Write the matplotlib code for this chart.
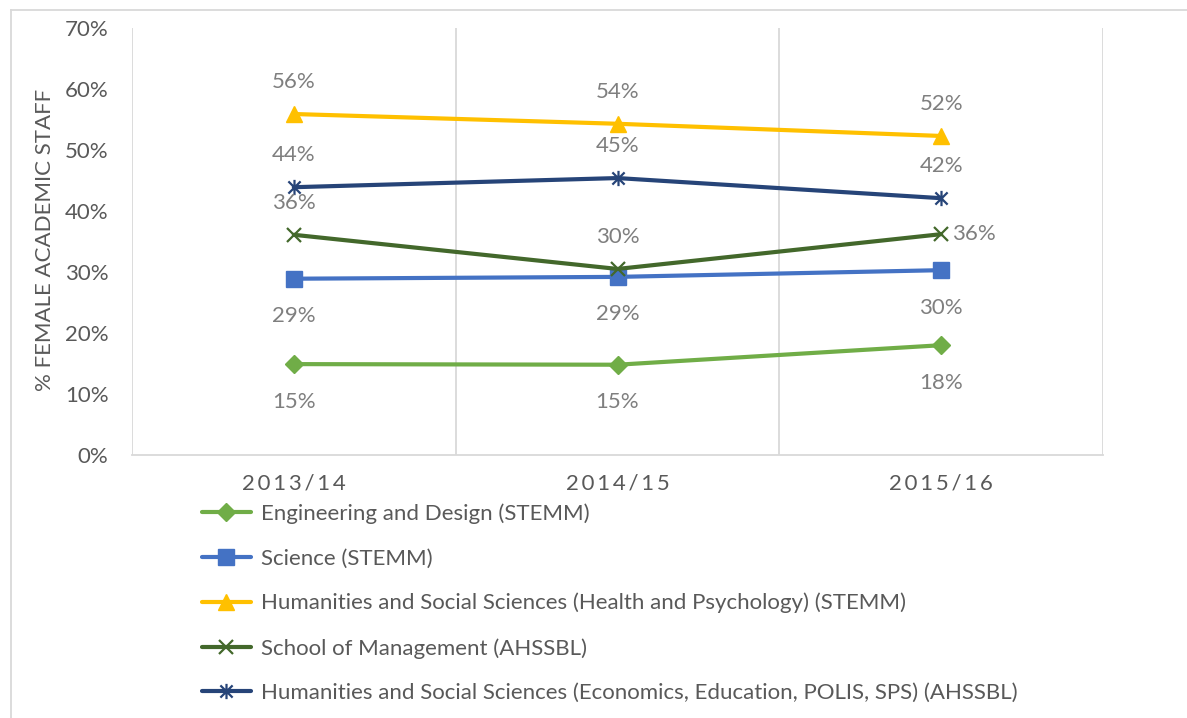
import matplotlib
matplotlib.use("Agg")
import matplotlib.pyplot as plt
from matplotlib.path import Path
from matplotlib.lines import Line2D

plt.rcParams['font.family'] = ['Lato', 'DejaVu Sans']

years = ["2013/14", "2014/15", "2015/16"]
series_names = [
    "Engineering and Design (STEMM)",
    "Science (STEMM)",
    "Humanities and Social Sciences (Health and Psychology) (STEMM)",
    "School of Management (AHSSBL)",
    "Humanities and Social Sciences (Economics, Education, POLIS, SPS) (AHSSBL)",
]
eng = [0.149, 0.148, 0.180]
sci = [0.289, 0.292, 0.303]
hss_health = [0.559, 0.543, 0.523]
mgmt = [0.361, 0.305, 0.362]
hss_econ = [0.439, 0.454, 0.421]
label_pos = [
    ["below", "below", "below"],
    ["below", "below", "below"],
    ["above", "above", "above"],
    ["above", "above", "right"],
    ["above", "above", "above"],
]
yticks = [0, 0.1, 0.2, 0.3, 0.4, 0.5, 0.6, 0.7]

star = Path([(0, -1), (0, 1), (-0.8, -0.8), (0.8, 0.8), (-0.8, 0.8), (0.8, -0.8)],
            [Path.MOVETO, Path.LINETO, Path.MOVETO, Path.LINETO, Path.MOVETO, Path.LINETO])

styles = [
    dict(color="#70AD47", marker="D", ms=9.5, mfc="#70AD47", mec="#70AD47", mew=1),
    dict(color="#4472C4", marker="s", ms=11, mfc="#4472C4", mec="#4472C4", mew=1),
    dict(color="#FFC000", marker="^", ms=12, mfc="#FFC000", mec="#FFC000", mew=1),
    dict(color="#43682B", marker="x", ms=10, mfc="none", mec="#43682B", mew=1.6),
    dict(color="#264478", marker=star, ms=11, mfc="none", mec="#264478", mew=1.6),
]

FS = 16
W, H = 1187, 718
fig = plt.figure(figsize=(W / 100, H / 100), dpi=100)
ax = fig.add_axes([132 / W, 1 - 455 / H, (1103 - 132) / W, (455 - 28) / H])

x = list(range(len(years)))
all_series = [eng, sci, hss_health, mgmt, hss_econ]
handles = []
for vals, name, st, lp in zip(all_series, series_names, styles, label_pos):
    ln, = ax.plot(x, vals, lw=3, label=name, solid_capstyle="round", zorder=3, **st)
    handles.append(ln)
    for xi, v, p in zip(x, vals, lp):
        txt = f"{round(v * 100):.0f}%"
        if p == "above":
            off, ha, va = (0, 23), "center", "center"
        elif p == "below":
            off, ha, va = (0, -27), "center", "center"
        else:
            off, ha, va = (7.5, 0), "left", "center"
        ax.annotate(txt, (xi, v), xytext=off, textcoords="offset points",
                    ha=ha, va=va, fontsize=FS, color="#7F7F7F", zorder=4)

ax.set_xlim(-0.5, 2.5)
ax.set_ylim(0, 0.7)
ax.set_yticks(yticks)
ax.set_yticklabels([f"{int(round(t * 100))}%" for t in yticks])
ax.set_xticks(x)
ax.set_xticklabels(["\u2009".join(list(y)) for y in years])
ax.set_xticks([-0.5, 0.5, 1.5, 2.5], minor=True)
ax.grid(True, which="minor", axis="x", color="#D9D9D9", lw=1.3, zorder=0)
ax.tick_params(axis="both", which="both", length=0)
ax.tick_params(axis="y", pad=17, labelsize=FS, labelcolor="#595959")
ax.tick_params(axis="x", pad=13, labelsize=FS, labelcolor="#595959")
for s in ["top", "left", "right"]:
    ax.spines[s].set_visible(False)
ax.spines["bottom"].set_color("#D9D9D9")
ax.spines["bottom"].set_linewidth(1.3)

fig.text(45 / W, 1 - 240 / H, "% FEMALE ACADEMIC STAFF", rotation=90,
         ha="center", va="center", fontsize=FS, color="#595959")

leg = fig.legend(handles=handles, loc="upper left",
                 bbox_to_anchor=(193 / W, 1 - 494.5 / H), frameon=False,
                 fontsize=FS, labelcolor="#595959", handlelength=2.2,
                 handletextpad=0.45, labelspacing=1.1, borderaxespad=0)

# outer frame (left and top edges visible)
fig.add_artist(Line2D([10.5 / W, 10.5 / W], [0, 1 - 10 / H], transform=fig.transFigure,
                      color="#D9D9D9", lw=1.3))
fig.add_artist(Line2D([10.5 / W, 1], [1 - 10 / H, 1 - 10 / H], transform=fig.transFigure,
                      color="#D9D9D9", lw=1.3))

fig.savefig("out.png", dpi=100)
